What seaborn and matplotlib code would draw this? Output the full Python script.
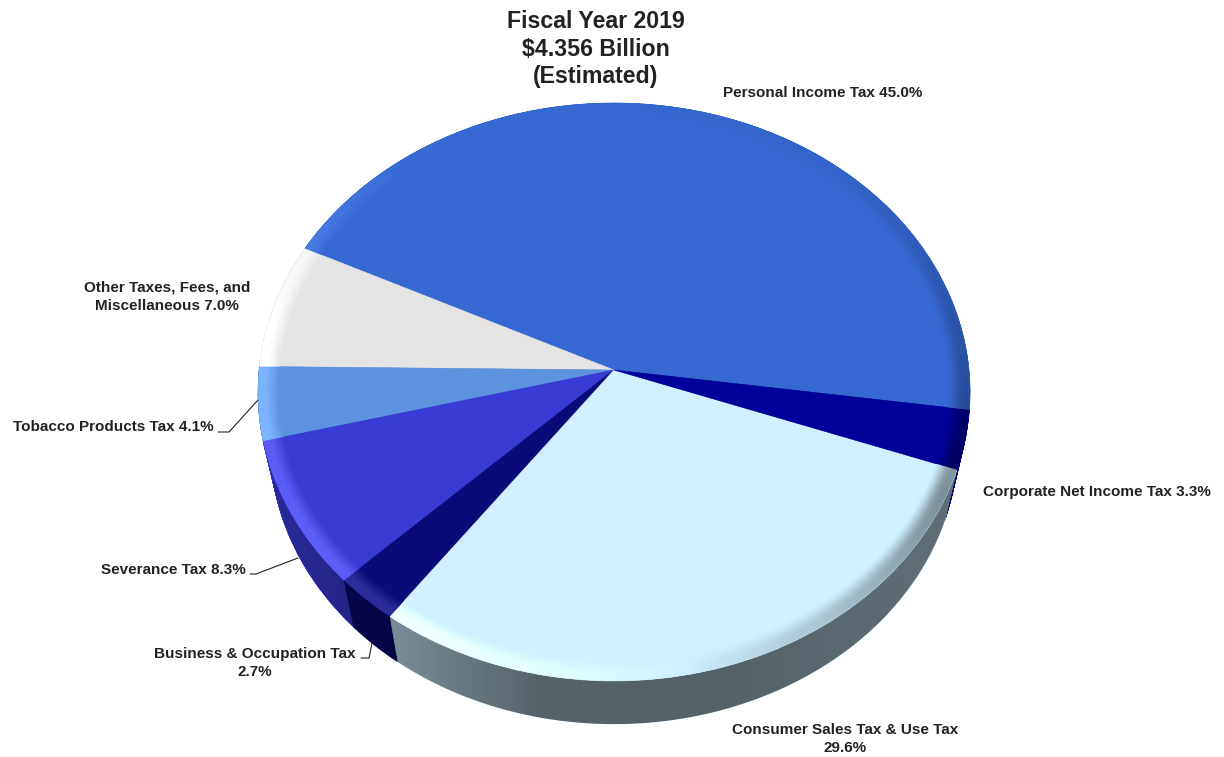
import numpy as np
import matplotlib
matplotlib.use("Agg")
import matplotlib.pyplot as plt
from matplotlib.transforms import Transform
import seaborn as sns

# Revenue shares, counterclockwise from the right-hand edge of the largest slice
categories = ["Personal Income Tax", "Other Taxes, Fees, and Miscellaneous",
              "Tobacco Products Tax", "Severance Tax",
              "Business & Occupation Tax", "Consumer Sales Tax & Use Tax",
              "Corporate Net Income Tax"]
shares = [45.0, 7.0, 4.1, 8.3, 2.7, 29.6, 3.3]
slice_colors = ["#3568d0", "#e4e4e4", "#5b93df", "#3a3ad4",
                "#0a0a78", "#d0f0ff", "#00009a"]
title_lines = ["Fiscal Year 2019", "$4.356 Billion", "(Estimated)"]

WIDTH, HEIGHT = 1224, 757
START_ANGLE = -7.9
APEX_X, APEX_Y = 614.0, 370.0
SCALE_X, SCALE_Y, TILT = 355.0, 287.3, 0.0761
FLOOR_DROP, FLOOR_SHRINK = 54.0, 0.035
WALL_LAYERS = 64


class TiltedDisc(Transform):
    """Projects the unit pie onto the page as a disc seen in perspective."""
    input_dims = output_dims = 2
    is_separable = False
    has_inverse = False

    def __init__(self, sink=0.0):
        super().__init__()
        self.sink = sink

    def transform_non_affine(self, values):
        v = np.asarray(values, dtype=float)
        w = 1 + TILT * v[:, 1]
        s = 1 - FLOOR_SHRINK * self.sink
        px = APEX_X + s * SCALE_X * v[:, 0] / w
        py = APEX_Y + FLOOR_DROP * self.sink - s * SCALE_Y * v[:, 1] / w
        return np.column_stack([px, py])


def disc_coords(px, py, sink=0.0):
    """Inverse of TiltedDisc for page pixel positions."""
    s = 1 - FLOOR_SHRINK * sink
    xs = (px - APEX_X) / s
    ys = (APEX_Y + FLOOR_DROP * sink - py) / s
    y = ys / (SCALE_Y - TILT * ys)
    x = xs * (1 + TILT * y) / SCALE_X
    return x, y


def draw_pie(ax, palette, sink, zorder):
    wedges, _ = ax.pie(shares, colors=palette, startangle=START_ANGLE, radius=1)
    for w in wedges:
        w.set_transform(TiltedDisc(sink) + ax.transData)
        w.set_edgecolor(w.get_facecolor())
        w.set_linewidth(0.4)
        w.set_zorder(zorder)
        w.set_clip_on(False)


sns.set_theme(style="white")
plt.rcParams["font.family"] = ["Liberation Sans", "DejaVu Sans"]
palette = sns.color_palette(slice_colors)

fig = plt.figure(figsize=(WIDTH / 100, HEIGHT / 100), dpi=100, facecolor="white")
ax = fig.add_axes([0, 0, 1, 1])

# Side wall: stacked copies of the pie, sinking towards the floor disc
for sink in np.linspace(1, 0, WALL_LAYERS):
    draw_pie(ax, palette, sink, 1)

# Wall shading falls off from left to right, as if lit from the lower left
gx, gy = np.meshgrid(np.arange(WIDTH) + 0.5, np.arange(HEIGHT) + 0.5)
coverage = np.zeros_like(gx)
for sink in np.linspace(1, 0, WALL_LAYERS // 2):
    xd, yd = disc_coords(gx, gy, sink)
    coverage = np.maximum(coverage, np.clip((1 - np.hypot(xd, yd)) * 340 + 0.5, 0, 1))
brightness = np.interp(gx, [270, 395, 540, 700, 960], [0.72, 0.58, 0.41, 0.40, 0.46])
wall = np.zeros((HEIGHT, WIDTH, 4))
wall[..., 3] = (1 - brightness) * coverage
ax.imshow(wall, extent=(0, WIDTH, HEIGHT, 0), origin="upper", aspect="auto",
          interpolation="nearest", zorder=2)

# Top face
draw_pie(ax, palette, 0.0, 3)

# Bevel around the top rim, computed on a finer grid and averaged down
SS = 3
fx, fy = np.meshgrid((np.arange(WIDTH * SS) + 0.5) / SS, (np.arange(HEIGHT * SS) + 0.5) / SS)
xd, yd = disc_coords(fx, fy)
radius = np.hypot(xd, yd)
theta = np.degrees(np.arctan2(yd, xd)) % 360
edges = np.cumsum(shares) / np.sum(shares) * 360
slice_index = np.clip(np.searchsorted(edges, (theta - START_ANGLE) % 360), 0, len(shares) - 1)
base = np.array(palette)[slice_index]
light = np.interp(theta, [0, 25, 50, 90, 130, 160, 180, 215, 240, 262, 285, 310, 335, 360],
                  [-.5, -.25, -.08, 0, .1, .6, .9, 1, .9, .45, -.1, -.5, -.9, -.5])
ramp = np.clip((radius - 0.935) / 0.05, 0, 1)
ramp = ramp * ramp * (3 - 2 * ramp)
amount = (light * ramp)[..., None]
rgb = np.where(amount > 0, base + 0.14 * amount, base * (1 + 0.45 * amount))
alpha = np.clip(ramp * 10, 0, 1) * (radius <= 1)
premult = np.clip(rgb, 0, 1) * alpha[..., None]
del base, rgb, amount, light, theta, slice_index


def shrink(a):
    h, w = a.shape[:2]
    return a.reshape(h // SS, SS, w // SS, SS, *a.shape[2:]).mean(axis=(1, 3))


a_small = shrink(alpha)
rgb_small = shrink(premult) / np.maximum(a_small[..., None], 1e-6)
bevel = np.dstack([np.clip(rgb_small, 0, 1), a_small])
ax.imshow(bevel, extent=(0, WIDTH, HEIGHT, 0), origin="upper", aspect="auto",
          interpolation="nearest", zorder=4)

ax.set_xlim(0, WIDTH)
ax.set_ylim(HEIGHT, 0)
ax.axis("off")

# Title
for line, y in zip(title_lines, [22, 49, 76]):
    ax.text(596, y, line.replace("$", r"\$"), ha="center", va="center", fontsize=16.7,
            fontweight="bold", color="#222222", zorder=6)

# Slice labels
label_style = dict(ha="center", va="center", fontsize=11.0, fontweight="bold",
                   color="#222222", zorder=6, linespacing=1.37)
ax.text(823, 93, f"{categories[0]} {shares[0]:.1f}%", **label_style)
ax.text(167, 297, f"Other Taxes, Fees, and\nMiscellaneous {shares[1]:.1f}%", **label_style)
ax.text(113, 427, f"{categories[2]} {shares[2]:.1f}%", **label_style)
ax.text(173, 570, f"{categories[3]} {shares[3]:.1f}%", **label_style)
ax.text(254.5, 663, f"{categories[4]}\n{shares[4]:.1f}%", **label_style)
ax.text(845, 739, f"{categories[5]}\n{shares[5]:.1f}%", **label_style)
ax.text(1097, 492, f"{categories[6]} {shares[6]:.1f}%", **label_style)

# Leader lines
for xs, ys in [([218, 229, 258], [432, 432, 400]),
               ([250, 256, 298], [574, 574, 558]),
               ([361, 369, 372], [658, 658, 643])]:
    ax.plot(xs, ys, color="#222222", lw=0.8, zorder=6, scalex=False, scaley=False)

fig.savefig("out.png", dpi=100, facecolor="white")
